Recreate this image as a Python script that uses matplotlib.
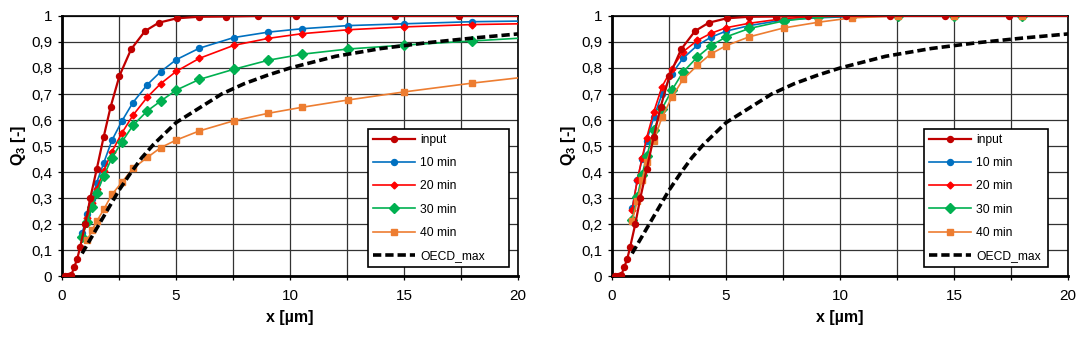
import matplotlib
matplotlib.use("Agg")
import matplotlib.pyplot as plt
from matplotlib.ticker import MultipleLocator, FuncFormatter

plt.rcParams['font.family'] = ['Liberation Sans', 'DejaVu Sans']
plt.rcParams['mathtext.fontset'] = 'custom'
plt.rcParams['mathtext.rm'] = 'Liberation Sans'
plt.rcParams['mathtext.bf'] = 'Liberation Sans:bold'

# particle size grid of the measured curves (last point lies past the axis end)
x_size = [0.88, 1.11, 1.32, 1.52, 1.83, 2.19, 2.62, 3.11, 3.74, 4.33, 5.01,
          6.02, 7.53, 9.05, 10.53, 12.54, 15.0, 18.0, 21.5]

# input distribution (same in both panels)
input_x = [0.15, 0.28, 0.41, 0.53, 0.67, 0.79, 1.02, 1.24, 1.52, 1.83, 2.13,
           2.52, 3.03, 3.64, 4.24, 5.03, 6.01, 7.2, 8.6, 10.25, 12.2, 14.6,
           17.4, 20.7]
input_q3 = [0, 0, 0.005, 0.033, 0.067, 0.11, 0.2, 0.3, 0.41, 0.536, 0.65,
            0.77, 0.872, 0.942, 0.974, 0.991, 0.997, 0.998, 1, 1, 1, 1, 1, 1]

# left panel
left_10 = [0.164, 0.237, 0.295, 0.359, 0.435, 0.522, 0.595, 0.667, 0.736, 0.786,
           0.832, 0.876, 0.917, 0.938, 0.951, 0.963, 0.970, 0.978, 0.982]
left_20 = [0.15, 0.225, 0.28, 0.335, 0.405, 0.478, 0.549, 0.618, 0.688, 0.740,
           0.787, 0.837, 0.887, 0.914, 0.932, 0.947, 0.958, 0.967, 0.972]
left_30 = [0.149, 0.209, 0.267, 0.318, 0.385, 0.455, 0.515, 0.579, 0.635, 0.673,
           0.715, 0.756, 0.795, 0.830, 0.853, 0.873, 0.888, 0.904, 0.922]
left_40 = [None, 0.138, 0.177, 0.21, 0.256, 0.314, 0.36, 0.414, 0.456, 0.494,
           0.523, 0.558, 0.597, 0.626, 0.649, 0.677, 0.708, 0.742, 0.777]

# right panel
right_10 = [0.26, 0.369, 0.45, 0.52, 0.61, 0.70, 0.777, 0.837, 0.887, 0.918,
            0.942, 0.963, 0.985, 0.993, 0.998, 1, 1, 1, 1]
right_20 = [0.255, 0.37, 0.455, 0.532, 0.631, 0.728, 0.797, 0.862, 0.906, 0.933,
            0.955, 0.972, 0.99, 0.998, 1, 1, 1, 1, 1]
right_30 = [0.215, 0.305, 0.39, 0.46, 0.56, 0.643, 0.714, 0.784, 0.842, 0.885,
            0.92, 0.952, 0.981, 0.996, 1, 1, 1, 1, 1]
right_40 = [0.21, 0.29, 0.37, 0.44, 0.52, 0.61, 0.687, 0.756, 0.81, 0.854,
            0.886, 0.92, 0.954, 0.976, 0.993, 1, 1, 1, 1]

# OECD_max reference curve
oecd_x = [0.88, 1.0, 1.5, 2.0, 2.5, 3.0, 3.5, 4.0, 5.0, 6.0, 7.0, 8.0, 9.0,
          10.0, 12.0, 14.0, 16.0, 18.0, 20.0]
oecd_q3 = [0.087, 0.105, 0.18, 0.255, 0.33, 0.395, 0.455, 0.505, 0.59, 0.645,
           0.70, 0.74, 0.772, 0.80, 0.845, 0.875, 0.897, 0.915, 0.931]

labels = ['input', '10 min', '20 min', '30 min', '40 min', 'OECD_max']


def comma(v, pos):
    if abs(v - round(v)) < 1e-9:
        return '%d' % round(v)
    return ('%.1f' % v).replace('.', ',')


def xlab(v, pos):
    if abs(v % 5) < 1e-9:
        return '%d' % v
    return ''


def draw(ax, s10, s20, s30, s40, leg_box):
    ax.plot(input_x, input_q3, color='#C00000', lw=1.6, marker='o', ms=4.3,
            label=labels[0], zorder=4)
    ax.plot(x_size, s10, color='#0070C0', lw=1.2, marker='o', ms=4.3,
            label=labels[1], zorder=3)
    ax.plot(x_size, s20, color='#FF0000', lw=1.2, marker='D', ms=3.5,
            label=labels[2], zorder=3)
    ax.plot(x_size, s30, color='#00B050', lw=1.2, marker='D', ms=5.2,
            label=labels[3], zorder=3)
    xs = [x for x, v in zip(x_size, s40) if v is not None]
    ys = [v for v in s40 if v is not None]
    ax.plot(xs, ys, color='#ED7D31', lw=1.2, marker='s', ms=4.3,
            label=labels[4], zorder=3)
    ax.plot(oecd_x, oecd_q3, color='black', lw=2.6, ls=(0, (2.3, 1.1)),
            label=labels[5], zorder=5)

    ax.set_xlim(0, 20)
    ax.set_ylim(0, 1)
    ax.xaxis.set_major_locator(MultipleLocator(2.5))
    ax.yaxis.set_major_locator(MultipleLocator(0.1))
    ax.xaxis.set_major_formatter(FuncFormatter(xlab))
    ax.yaxis.set_major_formatter(FuncFormatter(comma))
    ax.grid(True, color='#333333', lw=0.9)
    ax.set_axisbelow(True)
    ax.tick_params(direction='out', length=3, width=0.9, labelsize=11)
    ax.tick_params(axis='x', pad=6)
    ax.tick_params(axis='y', pad=4)
    for side in ['left', 'bottom']:
        ax.spines[side].set_linewidth(2)
    for side in ['top', 'right']:
        ax.spines[side].set_linewidth(1.2)
    ax.set_xlabel('x [µm]', fontsize=11.5, fontweight='bold', labelpad=5)
    ax.set_ylabel('Q$_\\mathbf{3}$ [-]', fontsize=11.5, fontweight='bold',
                  labelpad=2)
    leg = ax.legend(loc='lower left', bbox_to_anchor=leg_box, mode='expand',
                    borderaxespad=0, fontsize=8.7, handlelength=3.5,
                    handletextpad=0.4, labelspacing=0.93, fancybox=False,
                    framealpha=1, edgecolor='black', borderpad=0.4)
    leg.get_frame().set_linewidth(1.2)
    leg.set_zorder(10)


fig = plt.figure(figsize=(10.84, 3.4), dpi=100)
ax1 = fig.add_axes([0.0572, 0.188, 0.4207, 0.765])
ax2 = fig.add_axes([0.5646, 0.188, 0.4207, 0.765])

draw(ax1, left_10, left_20, left_30, left_40, (0.671, 0.035, 0.309, 0.534))
draw(ax2, right_10, right_20, right_30, right_40, (0.684, 0.035, 0.272, 0.534))

fig.savefig('out.png', dpi=100)
